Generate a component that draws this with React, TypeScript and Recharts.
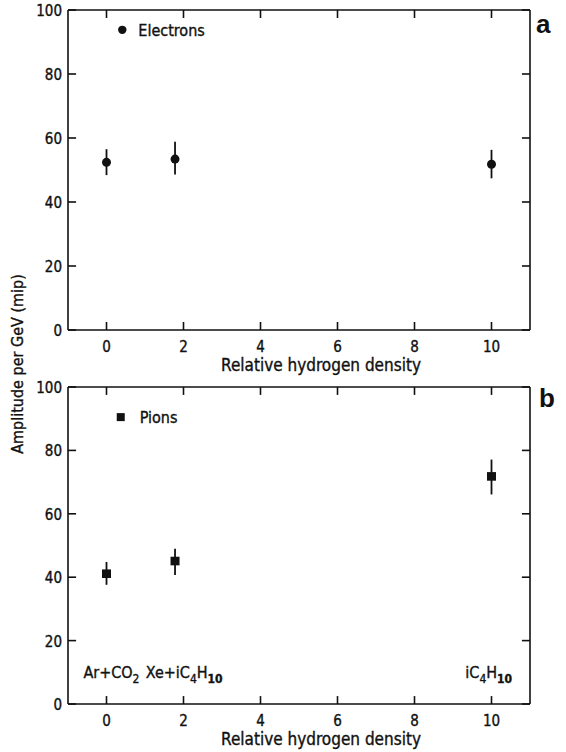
import React from 'react';
import { ScatterChart, Scatter, XAxis, YAxis, ErrorBar, ReferenceLine } from 'recharts';

const FONT = '"DejaVu Sans Condensed", "Liberation Sans Narrow", "DejaVu Sans", sans-serif';
const INK = '#111';
const HEAVY = { stroke: INK, strokeWidth: 0.35 };

// ---- axes ----
const xTicks = [0, 2, 4, 6, 8, 10];
const yTicks = [0, 20, 40, 60, 80, 100];
const xDomain = [-1, 11];
const yDomain = [0, 100];
const xTitle = 'Relative hydrogen density';
const yTitle = 'Amplitude per GeV (mip)';
const panelLetters = ['a', 'b'];

// ---- data ----
const hydrogenDensity = [0, 1.78, 10];
const electronAmp = [52.4, 53.4, 51.8];
const electronLow = [48.4, 48.6, 47.4];
const electronHigh = [56.5, 58.8, 56.3];
const pionAmp = [41.1, 45.1, 71.8];
const pionLow = [37.6, 40.7, 66.1];
const pionHigh = [44.8, 49.0, 77.1];

// ---- legend / annotations ----
const legendElectrons = [{ x: 0.41, y: 93.8, label: 'Electrons' }];
const legendPions = [{ x: 0.37, y: 90.5, label: 'Pions' }];
const gasLabelX = [-0.6, 1.02, 9.32];
const gasLabelY = [8.2, 8.2, 8.2];
// [text, subscript, bold]
const gasLabelParts: [string, boolean, boolean][][] = [
  [['Ar+CO', false, false], ['2', true, false]],
  [['Xe+iC', false, false], ['4', true, false], ['H', false, false], ['10', true, true]],
  [['iC', false, false], ['4', true, false], ['H', false, false], ['10', true, true]],
];

const electronData = hydrogenDensity.map((x, i) => ({
  x,
  y: electronAmp[i],
  err: [electronAmp[i] - electronLow[i], electronHigh[i] - electronAmp[i]],
}));
const pionData = hydrogenDensity.map((x, i) => ({
  x,
  y: pionAmp[i],
  err: [pionAmp[i] - pionLow[i], pionHigh[i] - pionAmp[i]],
}));
const gasData = gasLabelX.map((x, i) => ({ x, y: gasLabelY[i], parts: gasLabelParts[i] }));

// tick-mark lengths in data units (≈8 px)
const X_TICK_LEN = 2.5; // along y
const Y_TICK_LEN = 0.21; // along x

// ---- tick labels ----
const BottomTick = (props: any) => {
  const { x, y, payload } = props;
  return (
    <text x={x} y={y + 22} textAnchor="middle" fontSize={15} fontFamily={FONT} fill={INK} {...HEAVY}>
      {payload.value}
    </text>
  );
};
const LeftTick = (props: any) => {
  const { x, y, payload } = props;
  return (
    <text x={x - 6} y={y + 6} textAnchor="end" fontSize={15} fontFamily={FONT} fill={INK} {...HEAVY}>
      {payload.value}
    </text>
  );
};

// ---- shapes ----
const Circle = (props: any) => <circle cx={props.cx} cy={props.cy} r={4.5} fill={INK} />;
const Square = (props: any) => (
  <rect x={props.cx - 4.5} y={props.cy - 4.3} width={9} height={8.6} fill={INK} />
);
const LegendCircle = (props: any) => (
  <g>
    <circle cx={props.cx} cy={props.cy} r={4.2} fill={INK} />
    <text x={props.cx + 16} y={props.cy + 6} fontSize={16} fontFamily={FONT} fill={INK} {...HEAVY}>
      {props.payload.label}
    </text>
  </g>
);
const LegendSquare = (props: any) => (
  <g>
    <rect x={props.cx - 4} y={props.cy - 4} width={8} height={8} fill={INK} />
    <text x={props.cx + 19} y={props.cy + 6} fontSize={16} fontFamily={FONT} fill={INK} {...HEAVY}>
      {props.payload.label}
    </text>
  </g>
);
const GasLabel = (props: any) => (
  <text x={props.cx} y={props.cy} fontSize={16} fontFamily={FONT} fill={INK} {...HEAVY}>
    {props.payload.parts.map(([t, sub, bold]: [string, boolean, boolean], i: number) => (
      <tspan key={i} fontSize={sub ? 12 : 16} dy={sub ? 5 : i === 0 ? 0 : -5} fontWeight={bold ? 700 : 400}>
        {t}
      </tspan>
    ))}
  </text>
);

const XTitle = (props: any) => {
  const vb = props.viewBox || {};
  return (
    <text x={vb.x + vb.width / 2 + 22} y={vb.y + 41} textAnchor="middle" fontSize={17} fontFamily={FONT} fill={INK} {...HEAVY}>
      {xTitle}
    </text>
  );
};

const axisLine = { stroke: INK, strokeWidth: 1.6 };
const lineProps = { stroke: INK, strokeWidth: 1.6, ifOverflow: 'visible' as const };

function Panel({ series, shape, legend, legendShape, plotTop, xAxisHeight, gas }: any) {
  const [x0, x1] = xDomain;
  const [y0, y1] = yDomain;
  return (
    <ScatterChart width={566} height={376} margin={{ top: plotTop, right: 36, left: 0, bottom: 0 }}>
      <XAxis
        type="number"
        dataKey="x"
        domain={xDomain}
        ticks={xTicks}
        interval={0}
        height={xAxisHeight}
        axisLine={axisLine}
        tickLine={false}
        tickSize={0}
        tickMargin={0}
        tick={<BottomTick />}
        allowDataOverflow
        label={{ content: <XTitle /> }}
      />
      <YAxis
        type="number"
        dataKey="y"
        domain={yDomain}
        ticks={yTicks}
        interval={0}
        width={68}
        axisLine={axisLine}
        tickLine={false}
        tickSize={0}
        tickMargin={0}
        tick={<LeftTick />}
        allowDataOverflow
      />
      {/* frame: top and right borders */}
      <ReferenceLine y={y1} {...lineProps} />
      <ReferenceLine x={x1} {...lineProps} />
      {/* inward tick marks on all four sides */}
      {xTicks.map((t) => (
        <ReferenceLine key={'b' + t} segment={[{ x: t, y: y0 }, { x: t, y: y0 + X_TICK_LEN }]} {...lineProps} />
      ))}
      {xTicks.map((t) => (
        <ReferenceLine key={'t' + t} segment={[{ x: t, y: y1 }, { x: t, y: y1 - X_TICK_LEN }]} {...lineProps} />
      ))}
      {yTicks.map((t) => (
        <ReferenceLine key={'l' + t} segment={[{ x: x0, y: t }, { x: x0 + Y_TICK_LEN, y: t }]} {...lineProps} />
      ))}
      {yTicks.map((t) => (
        <ReferenceLine key={'r' + t} segment={[{ x: x1, y: t }, { x: x1 - Y_TICK_LEN, y: t }]} {...lineProps} />
      ))}
      <Scatter data={series} shape={shape} isAnimationActive={false}>
        <ErrorBar dataKey="err" direction="y" width={0} stroke={INK} strokeWidth={1.8} />
      </Scatter>
      <Scatter data={legend} shape={legendShape} isAnimationActive={false} />
      {gas ? <Scatter data={gas} shape={<GasLabel />} isAnimationActive={false} /> : null}
    </ScatterChart>
  );
}

export default function App() {
  return (
    <div style={{ position: 'absolute', left: 0, top: 0, width: 566, height: 752, background: '#fff' }}>
      <div style={{ position: 'absolute', left: 0, top: 0 }}>
        <Panel
          series={electronData}
          shape={<Circle />}
          legend={legendElectrons}
          legendShape={<LegendCircle />}
          plotTop={10}
          xAxisHeight={46}
        />
      </div>
      <div style={{ position: 'absolute', left: 0, top: 376 }}>
        <Panel
          series={pionData}
          shape={<Square />}
          legend={legendPions}
          legendShape={<LegendSquare />}
          plotTop={11}
          xAxisHeight={48}
          gas={gasData}
        />
      </div>
      <svg
        width={566}
        height={752}
        style={{ position: 'absolute', left: 0, top: 0, pointerEvents: 'none' }}
      >
        <text
          x={0}
          y={0}
          transform="translate(23 364) rotate(-90)"
          textAnchor="middle"
          fontSize={16}
          fontFamily={FONT}
          fill={INK}
          {...HEAVY}
        >
          {yTitle}
        </text>
        <text x={536} y={33} fontSize={26} fontWeight={700} fontFamily='"Liberation Sans", Arial, sans-serif' fill={INK}>
          {panelLetters[0]}
        </text>
        <text x={539} y={407} fontSize={26} fontWeight={700} fontFamily='"Liberation Sans", Arial, sans-serif' fill={INK}>
          {panelLetters[1]}
        </text>
      </svg>
    </div>
  );
}
